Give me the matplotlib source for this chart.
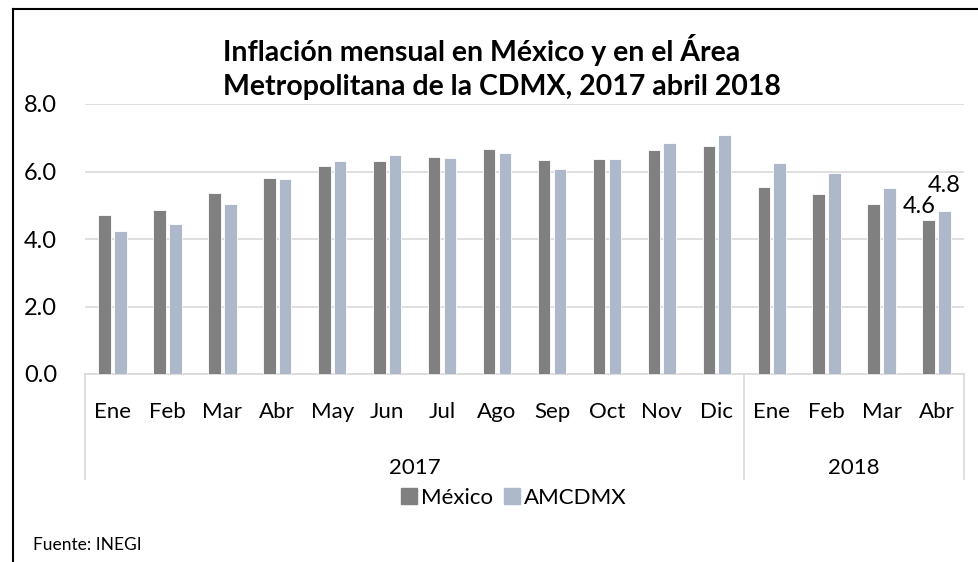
import matplotlib
matplotlib.use("Agg")
import matplotlib.pyplot as plt
from matplotlib.lines import Line2D
from matplotlib.patches import Patch
import numpy as np

months = ["Ene", "Feb", "Mar", "Abr", "May", "Jun", "Jul", "Ago", "Sep", "Oct", "Nov", "Dic",
          "Ene", "Feb", "Mar", "Abr"]
years = ["2017", "2018"]
year_counts = [12, 4]
mexico = [4.72, 4.86, 5.35, 5.82, 6.16, 6.31, 6.44, 6.66, 6.35, 6.37, 6.63, 6.77,
          5.55, 5.34, 5.04, 4.57]
amcdmx = [4.23, 4.43, 5.05, 5.78, 6.30, 6.50, 6.40, 6.55, 6.08, 6.36, 6.85, 7.09,
          6.26, 5.97, 5.50, 4.83]
yticks = [0.0, 2.0, 4.0, 6.0, 8.0]

FONT = "Lato"
plt.rcParams['font.family'] = [FONT, 'DejaVu Sans']

W, H = 979, 562
fig = plt.figure(figsize=(W / 100, H / 100), dpi=100)
ax = fig.add_axes([85 / W, 1 - 374 / H, (964 - 85) / W, (374 - 104) / H])

x = np.arange(len(months))
bw = 0.228
off = 0.144
c_mex = "#808080"
c_am = "#ADB9CA"
ax.bar(x - off, mexico, bw, color=c_mex, edgecolor="white", linewidth=0.6, zorder=3)
ax.bar(x + off, amcdmx, bw, color=c_am, edgecolor="white", linewidth=0.6, zorder=3)

ax.set_xlim(-0.5, len(months) - 0.5)
ax.set_ylim(0, 8)
ax.set_yticks(yticks)
ax.set_yticklabels([f"{v:.1f}" for v in yticks], fontsize=17)
ax.tick_params(axis="y", length=0, pad=20)
ax.set_xticks([])
for s in ["left", "right", "top"]:
    ax.spines[s].set_visible(False)
ax.spines["bottom"].set_color("#D9D9D9")
ax.spines["bottom"].set_linewidth(1.2)
ax.grid(axis="y", color="#D9D9D9", linewidth=1.2, zorder=0)

trans = ax.get_xaxis_transform()
for i, m in enumerate(months):
    ax.text(i, -0.14, m, transform=trans, ha="center", va="center", fontsize=16)
start = 0
bounds = [-0.5]
for y, c in zip(years, year_counts):
    mid = start + (c - 1) / 2
    ax.text(mid, -0.35, y, transform=trans, ha="center", va="center", fontsize=16)
    start += c
    bounds.append(start - 0.5)
for b in bounds:
    ax.add_line(Line2D([b, b], [0, -0.39], transform=trans, color="#D9D9D9",
                       linewidth=1.2, clip_on=False))

ax.annotate(f"{mexico[-1]:.1f}", (x[-1] - off, mexico[-1]), xytext=(-6.5, 5),
            textcoords="offset points", ha="center", va="baseline", fontsize=17)
ax.annotate(f"{amcdmx[-1]:.1f}", (x[-1] + off, amcdmx[-1]), xytext=(0, 14),
            textcoords="offset points", ha="center", va="baseline", fontsize=17)

fig.text(482 / W, 1 - 61 / H, "Inflación mensual en México y en el Área",
         ha="center", va="baseline", fontsize=20.5, fontweight="bold")
fig.text(502 / W, 1 - 95 / H, "Metropolitana de la CDMX, 2017 abril 2018",
         ha="center", va="baseline", fontsize=20.5, fontweight="bold")

handles = [Patch(color=c_mex, label="México"), Patch(color=c_am, label="AMCDMX")]
fig.legend(handles=handles, loc="center", bbox_to_anchor=(514 / W, 1 - 498 / H), ncol=2,
           frameon=False, fontsize=16, handlelength=0.7, handleheight=0.7,
           handletextpad=0.2, columnspacing=0.5, borderpad=0)

fig.text(33 / W, 1 - 545 / H, "Fuente: INEGI", ha="left", va="center", fontsize=12.5)

fig.add_artist(Line2D([13 / W, 13 / W], [0, 1 - 9 / H], transform=fig.transFigure,
                      color="black", linewidth=1.5))
fig.add_artist(Line2D([13 / W, 1], [1 - 9 / H, 1 - 9 / H], transform=fig.transFigure,
                      color="black", linewidth=1.5))

fig.savefig("out.png", dpi=100)
